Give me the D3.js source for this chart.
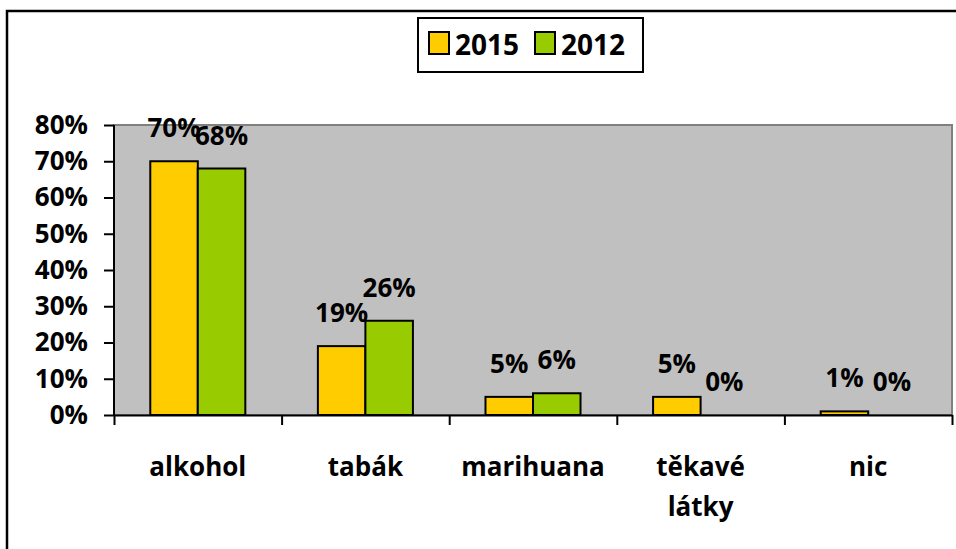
<!DOCTYPE html>
<html>
<head>
<meta charset="utf-8">
<script src="https://cdn.jsdelivr.net/npm/d3@7"></script>
<style>
  body { margin: 0; background: #fff; }
  text { font-family: "Open Sans", sans-serif; font-weight: bold; fill: #000; }
</style>
</head>
<body>
<div id="chart"></div>
<script>
// data
const categories = ["alkohol", "tabák", "marihuana", "těkavé látky", "nic"]
const series = ["2015", "2012"]
const values2015 = [70, 19, 5, 5, 1]
const values2012 = [68, 26, 6, 0, 0]
const yTicks = [0, 10, 20, 30, 40, 50, 60, 70, 80]
const colors = ["#FFCC00", "#99CC00"]

const dimensions = {
  width: 956,
  height: 549,
  plot: { left: 114, right: 952, top: 125, bottom: 415 },
}

const svg = d3.select("#chart")
  .append("svg")
    .attr("width", dimensions.width)
    .attr("height", dimensions.height)

// outer frame (runs off the right and bottom edges)
svg.append("rect")
  .attr("x", 7).attr("y", 11)
  .attr("width", 1000).attr("height", 600)
  .attr("fill", "none")
  .attr("stroke", "#000")
  .attr("stroke-width", 2.5)

const p = dimensions.plot

// scales
const y = d3.scaleLinear().domain([0, 80]).range([p.bottom, p.top])
const x0 = d3.scaleBand()
  .domain(categories)
  .range([p.left, p.right])
  .paddingInner(0.433)
  .paddingOuter(0.2165)
const x1 = d3.scaleBand().domain(series).range([0, x0.bandwidth()])
const edges = d3.scaleLinear().domain([0, categories.length]).range([p.left, p.right])

// plot area
svg.append("rect")
  .attr("x", p.left).attr("y", p.top)
  .attr("width", p.right - p.left).attr("height", p.bottom - p.top)
  .attr("fill", "#C0C0C0")
  .attr("stroke", "#808080")
  .attr("stroke-width", 2)

// bars
const rows = categories.map((c, i) => ({
  cat: c,
  vals: [
    { s: series[0], v: values2015[i] },
    { s: series[1], v: values2012[i] },
  ],
}))

const groups = svg.selectAll(".grp")
  .data(rows)
  .enter().append("g")
    .attr("class", "grp")
    .attr("transform", d => `translate(${x0(d.cat)},0)`)

groups.selectAll("rect")
  .data(d => d.vals.filter(e => e.v > 0))
  .enter().append("rect")
    .attr("x", d => x1(d.s))
    .attr("y", d => y(d.v))
    .attr("width", x1.bandwidth())
    .attr("height", d => y(0) - y(d.v))
    .attr("fill", d => colors[series.indexOf(d.s)])
    .attr("stroke", "#000")
    .attr("stroke-width", 2)

groups.selectAll("text")
  .data(d => d.vals)
  .enter().append("text")
    .attr("x", d => x1(d.s) + x1.bandwidth() / 2)
    .attr("y", d => y(d.v) - 24)
    .attr("text-anchor", "middle")
    .attr("font-size", 26)
    .text(d => d.v + "%")

// y axis
const yAxis = svg.append("g")
  .attr("transform", `translate(${p.left},0)`)
  .call(d3.axisLeft(y).tickValues(yTicks).tickFormat(d => d + "%").tickSize(10).tickPadding(16))
yAxis.selectAll("text").attr("font-size", 26).style("font-family", null).attr("font-family", null)
yAxis.selectAll("line, path").attr("stroke", "#000").attr("stroke-width", 2)
yAxis.select("path").attr("d", `M0,${p.top}V${p.bottom}`)

// x axis with ticks between categories
const xAxis = svg.append("g")
  .attr("transform", `translate(0,${p.bottom})`)
  .call(d3.axisBottom(edges).tickValues(d3.range(categories.length + 1)).tickFormat("").tickSize(10).tickSizeOuter(0))
xAxis.selectAll("line, path").attr("stroke", "#000").attr("stroke-width", 2)

// category labels
svg.selectAll(".cat")
  .data(categories)
  .enter().append("text")
    .attr("class", "cat")
    .attr("text-anchor", "middle")
    .attr("font-size", 26)
    .attr("x", d => x0(d) + x0.bandwidth() / 2)
    .attr("y", 476)
    .each(function(d) {
      const words = d.split(" ")
      d3.select(this).selectAll("tspan")
        .data(words)
        .enter().append("tspan")
          .attr("x", x0(d) + x0.bandwidth() / 2)
          .attr("dy", (w, i) => i === 0 ? 0 : 40)
          .text(w => w)
    })

// legend
const legend = svg.append("g")
legend.append("rect")
  .attr("x", 418).attr("y", 18)
  .attr("width", 225).attr("height", 54)
  .attr("fill", "#fff")
  .attr("stroke", "#000")
  .attr("stroke-width", 2)

const legendX = [429, 535]
series.forEach((s, i) => {
  legend.append("rect")
    .attr("x", legendX[i]).attr("y", 32)
    .attr("width", 20).attr("height", 22)
    .attr("fill", colors[i])
    .attr("stroke", "#000")
    .attr("stroke-width", 2)
  legend.append("text")
    .attr("x", legendX[i] + 26).attr("y", 55)
    .attr("font-size", 28)
    .text(s)
})
</script>
</body>
</html>
